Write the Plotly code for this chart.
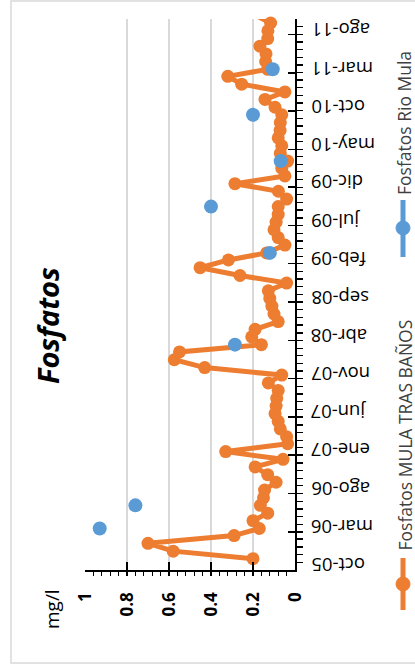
import plotly.graph_objects as go
import pandas as pd

# ---------------- data ----------------
date_tick_labels = ["oct-05", "mar-06", "ago-06", "ene-07", "jun-07", "nov-07", "abr-08",
                    "sep-08", "feb-09", "jul-09", "dic-09", "may-10", "oct-10", "mar-11", "ago-11"]
date_tick_values = ["2005-10-01", "2006-03-01", "2006-08-01", "2007-01-01", "2007-06-01",
                    "2007-11-01", "2008-04-01", "2008-09-01", "2009-02-01", "2009-07-01",
                    "2009-12-01", "2010-05-01", "2010-10-01", "2011-03-01", "2011-08-01"]

mula_dates = pd.date_range("2005-10-15", periods=72, freq="MS") + pd.Timedelta(days=14)
mula_values = [
    0.20, 0.58, 0.70, 0.29, 0.17, 0.20, 0.13, 0.165, 0.15, 0.145,
    0.09, 0.13, 0.19, 0.057, 0.33, 0.035, 0.04, 0.07, 0.08, 0.095,
    0.09, 0.087, 0.08, 0.127, 0.063, 0.43, 0.575, 0.55, 0.16, 0.206,
    0.19, 0.08, 0.10, 0.11, 0.12, 0.127, 0.04, 0.262, 0.452, 0.317,
    0.135, 0.048, 0.08, 0.10, 0.09, 0.08, 0.08, 0.04, 0.079, 0.286,
    0.048, 0.063, 0.035, 0.07, 0.063, 0.08, 0.071, 0.07, 0.063, 0.095,
    0.143, 0.048, 0.254, 0.32, 0.13, 0.14, 0.138, 0.167, 0.13, 0.129,
    0.116, 0.186,
]

rio_dates = ["2006-03-15", "2006-06-15", "2008-03-15", "2009-03-15",
             "2009-09-15", "2010-03-15", "2010-09-15", "2011-03-15"]
rio_values = [0.93, 0.76, 0.286, 0.12, 0.40, 0.068, 0.20, 0.106]

series_names = ["Fosfatos MULA TRAS BAÑOS", "Fosfatos Rio Mula"]
title_text = "Fosfatos"
unit_text = "mg/l"

ORANGE = "#ED7D31"
BLUE = "#5B9BD5"
FONT = "Open Sans"

# ---------------- layout geometry ----------------
W, H = 415, 669
L, R, T, B = 85, 120, 19, 99
PW = W - L - R
PH = H - T - B


def px(xp):
    return (xp - L) / PW


def py(yp):
    return (H - B - yp) / PH


fig = go.Figure()

fig.add_trace(go.Scatter(
    x=mula_values, y=mula_dates, mode="lines+markers", name=series_names[0],
    line=dict(color=ORANGE, width=5), marker=dict(size=13, color=ORANGE),
    showlegend=False, cliponaxis=False,
))
fig.add_trace(go.Scatter(
    x=rio_values, y=rio_dates, mode="markers", name=series_names[1],
    marker=dict(size=14, color=BLUE), showlegend=False, cliponaxis=False,
))

annotations = []
for d, lab in zip(date_tick_values, date_tick_labels):
    annotations.append(dict(
        x=px(309), xref="paper", y=d, yref="y", text=lab, textangle=180,
        xanchor="left", yanchor="middle", yshift=4, showarrow=False,
        font=dict(family=FONT, size=18.5, color="black"),
    ))

annotations.append(dict(
    x=px(47), y=py(326), xref="paper", yref="paper", text="<b><i>%s</i></b>" % title_text,
    textangle=-90, showarrow=False, xanchor="center", yanchor="middle",
    font=dict(family=FONT, size=29, color="black"),
))
annotations.append(dict(
    x=px(52), y=py(609), xref="paper", yref="paper", text=unit_text,
    textangle=-90, showarrow=False, xanchor="center", yanchor="middle",
    font=dict(family=FONT, size=19, color="black"),
))
# legend texts
annotations.append(dict(
    x=px(404), y=py(553), xref="paper", yref="paper", text=series_names[0],
    textangle=-90, showarrow=False, xanchor="center", yanchor="bottom",
    font=dict(family=FONT, size=17.5, color="#404040"),
))
annotations.append(dict(
    x=px(404), y=py(197), xref="paper", yref="paper", text=series_names[1],
    textangle=-90, showarrow=False, xanchor="center", yanchor="bottom",
    font=dict(family=FONT, size=17.5, color="#404040"),
))

shapes = [
    dict(type="rect", xref="paper", yref="paper", x0=px(11), x1=px(416), y0=py(663), y1=py(1),
         line=dict(color="#d9d9d9", width=1.5), layer="below"),
    dict(type="line", xref="paper", yref="paper", x0=px(403), x1=px(403), y0=py(558), y1=py(610),
         line=dict(color=ORANGE, width=5)),
    dict(type="circle", xref="paper", yref="paper", xsizemode="pixel", ysizemode="pixel",
         xanchor=px(403), yanchor=py(584), x0=-7, x1=7, y0=-7, y1=7,
         fillcolor=ORANGE, line=dict(color=ORANGE, width=1)),
    dict(type="line", xref="paper", yref="paper", x0=px(403), x1=px(403), y0=py(200), y1=py(257),
         line=dict(color=BLUE, width=5)),
    dict(type="circle", xref="paper", yref="paper", xsizemode="pixel", ysizemode="pixel",
         xanchor=px(403), yanchor=py(228), x0=-7, x1=7, y0=-7, y1=7,
         fillcolor=BLUE, line=dict(color=BLUE, width=1)),
]

fig.update_layout(
    width=W, height=H, margin=dict(l=L, r=R, t=T, b=B, pad=0),
    paper_bgcolor="white", plot_bgcolor="white", showlegend=False,
    annotations=annotations, shapes=shapes,
    xaxis=dict(
        range=[1, 0], tick0=0, dtick=0.2, showgrid=True, gridcolor="#d9d9d9", gridwidth=1.3,
        zeroline=False, showline=True, linecolor="black", linewidth=1.5,
        ticks="inside", ticklen=8, tickwidth=1.5, tickcolor="black",
        minor=dict(dtick=0.04, tick0=0, ticks="outside", ticklen=4, tickwidth=1.3,
                   tickcolor="black", showgrid=False),
        tickangle=-90, ticklabelstandoff=14,
        tickfont=dict(family=FONT, size=17, color="black", weight="bold"),
    ),
    yaxis=dict(
        type="date", range=["2005-10-01", "2011-10-01"], side="right",
        showgrid=False, zeroline=False, showline=True, linecolor="black", linewidth=1.5,
        tickmode="array", tickvals=date_tick_values, showticklabels=False,
        ticks="inside", ticklen=7, tickwidth=1.5, tickcolor="black",
        minor=dict(tickmode="linear", tick0="2005-10-01", dtick="M1", ticks="outside",
                   ticklen=6, tickwidth=1.3, tickcolor="black", showgrid=False),
    ),
)

fig.write_html(
    "out.html",
    config={"displayModeBar": False, "staticPlot": True},
    post_script="document.body.style.margin='0px';document.body.style.overflow='hidden';",
)
